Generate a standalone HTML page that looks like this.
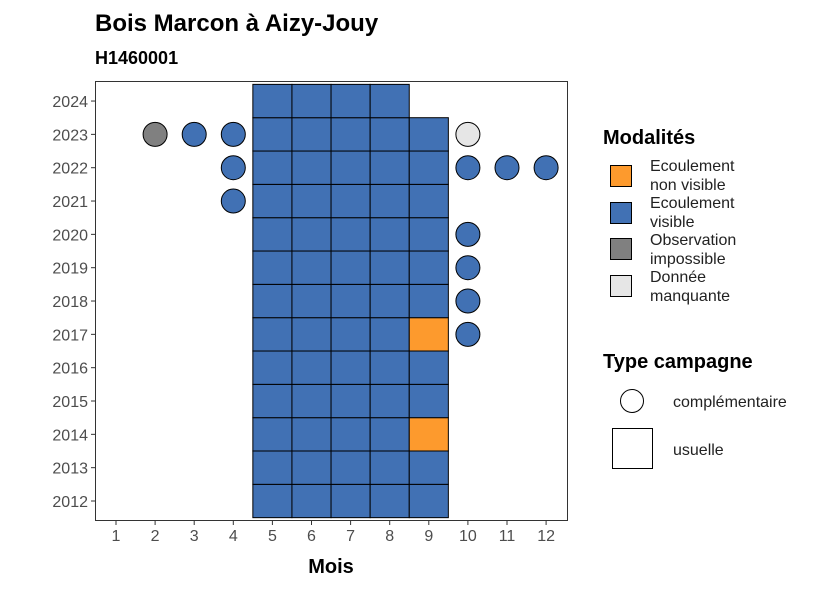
<!DOCTYPE html>
<html><head><meta charset="utf-8"><style>
body{margin:0;background:#fff;font-family:"Liberation Sans",sans-serif}
</style></head><body>
<svg id="c" width="826" height="590" xmlns="http://www.w3.org/2000/svg" font-family="Liberation Sans, sans-serif">
<text x="95" y="31" font-size="24" font-weight="bold">Bois Marcon à Aizy-Jouy</text>
<text x="95" y="64" font-size="18" font-weight="bold">H1460001</text>
<rect x="95.5" y="81.5" width="472" height="439" fill="#fff" stroke="#333"/>
<g id="tiles"></g><g id="pts"></g><g id="axes"></g>
<text x="331" y="573" font-size="20" font-weight="bold" text-anchor="middle">Mois</text>
<text x="603" y="144" font-size="20" font-weight="bold">Modalités</text>
<g font-size="16" fill="#222">
<rect x="610.5" y="165.5" width="21" height="21" fill="#fd9a2d" stroke="#000"/>
<text x="650" y="171">Ecoulement</text><text x="650" y="190">non visible</text>
<rect x="610.5" y="202.5" width="21" height="21" fill="#4171b4" stroke="#000"/>
<text x="650" y="208">Ecoulement</text><text x="650" y="227">visible</text>
<rect x="610.5" y="238.5" width="21" height="21" fill="#808080" stroke="#000"/>
<text x="650" y="245">Observation</text><text x="650" y="264">impossible</text>
<rect x="610.5" y="275.5" width="21" height="21" fill="#e6e6e6" stroke="#000"/>
<text x="650" y="282">Donnée</text><text x="650" y="301">manquante</text>
</g>
<text x="603" y="368" font-size="20" font-weight="bold">Type campagne</text>
<circle cx="632" cy="401" r="11.5" fill="#fff" stroke="#000"/>
<text x="673" y="407" font-size="16" fill="#222">complémentaire</text>
<rect x="612.5" y="428.5" width="40" height="40" fill="#fff" stroke="#000"/>
<text x="673" y="455" font-size="16" fill="#222">usuelle</text>
</svg>
<script>
const months=[1,2,3,4,5,6,7,8,9,10,11,12];
const years=[2012,2013,2014,2015,2016,2017,2018,2019,2020,2021,2022,2023,2024];
const tileMonths=[5,6,7,8,9];
const tileMaxYear=[2024,2024,2024,2024,2023];
const orangeTiles=[[9,2014],[9,2017]];
const ptMonth=[2,3,4,10,4,10,11,12,4,10,10,10,10];
const ptYear=[2023,2023,2023,2023,2022,2022,2022,2022,2021,2020,2019,2018,2017];
const ptCat=['g','b','b','l','b','b','b','b','b','b','b','b','b'];
const colors={b:'#4171b4',o:'#fd9a2d',g:'#808080',l:'#e6e6e6'};
const X=m=>116+(m-1)*39.1, Y=y=>501-(y-2012)*33.33;
const ns='http://www.w3.org/2000/svg';
function mk(t,a,p){const e=document.createElementNS(ns,t);for(const k in a)e.setAttribute(k,a[k]);p.appendChild(e);return e;}
const tg=document.getElementById('tiles');
tileMonths.forEach((m,i)=>{years.forEach(y=>{if(y>tileMaxYear[i])return;
 const or=orangeTiles.some(o=>o[0]===m&&o[1]===y);
 const r=mk('rect',{x:X(m)-19.55,y:Y(y)-16.67,width:39.1,height:33.33,fill:or?colors.o:colors.b,stroke:'#000','stroke-width':1},tg);
 
 });});
const pg=document.getElementById('pts');
ptMonth.forEach((m,i)=>{const c=mk('circle',{cx:X(m),cy:Y(ptYear[i]),r:12,fill:colors[ptCat[i]],stroke:'#000','stroke-width':1},pg);
 
 });
const ag=document.getElementById('axes');
months.forEach(m=>{mk('line',{x1:X(m),x2:X(m),y1:521,y2:525,stroke:'#333'},ag);
 const t=mk('text',{x:X(m),y:541,'font-size':16,'text-anchor':'middle',fill:'#4d4d4d'},ag);t.textContent=m;
 
 });
years.forEach(y=>{mk('line',{x1:91,x2:95,y1:Y(y),y2:Y(y),stroke:'#333'},ag);
 const t=mk('text',{x:88,y:Y(y)+6,'font-size':16,'text-anchor':'end',fill:'#4d4d4d'},ag);t.textContent=y;
 
 });
</script>
</body></html>
